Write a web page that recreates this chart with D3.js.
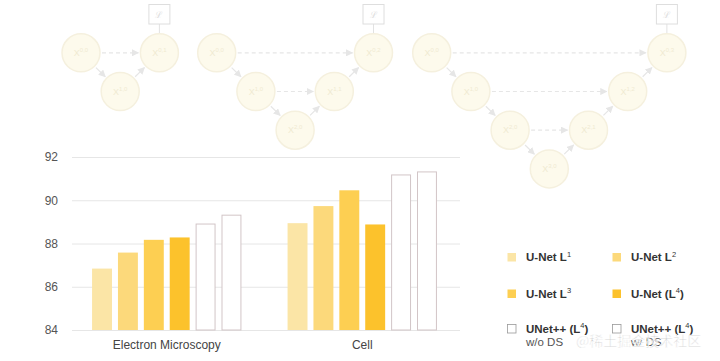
<!DOCTYPE html>
<html>
<head>
<meta charset="utf-8">
<script src="https://cdn.jsdelivr.net/npm/d3@7"></script>
<style>
  body { margin: 0; background: #fff; }
  svg { font-family: "Liberation Sans", Arial, sans-serif; }
</style>
</head>
<body>
<div id="chart"></div>
<script>
// Data
var datasets = ['Electron Microscopy', 'Cell'];
var seriesNames = ['U-Net L1', 'U-Net L2', 'U-Net L3', 'U-Net (L4)', 'UNet++ (L4) w/o DS', 'UNet++ (L4) w/ DS'];
var emValues   = [86.84, 87.58, 88.17, 88.28, 88.90, 89.31];
var cellValues = [88.94, 89.73, 90.46, 88.88, 91.17, 91.31];
var yTicks = [84, 86, 88, 90, 92];
var diagramDepths = [1, 2, 3];

// Legend entries: main text, superscript, suffix, second line
var legendMain = ['U-Net L', 'U-Net L', 'U-Net L', 'U-Net (L', 'UNet++ (L', 'UNet++ (L'];
var legendSup  = ['1', '2', '3', '4', '4', '4'];
var legendEnd  = ['', '', '', ')', ')', ')'];
var legendSub  = ['', '', '', '', 'w/o DS', 'w/ DS'];

var fills = ['#fbe5a6', '#fcd97b', '#fdcf52', '#fcc22c', '#ffffff', '#ffffff'];
var strokes = ['none', 'none', 'none', 'none', '#d2c5c7', '#d2c5c7'];

var W = 720, H = 361;
var svg = d3.select('#chart').append('svg')
    .attr('width', W)
    .attr('height', H);

// ---- faded network diagrams on top ----
var diag = svg.append('g');
var colStep = 39.2, rowStep = 38.7, r = 19;
var diagStart = [81, 216.7, 431.7];
var rowY = d3.scaleLinear().domain([0, 1]).range([52.8, 52.8 + rowStep]);

var defs = svg.append('defs');
defs.append('marker')
    .attr('id', 'arr')
    .attr('viewBox', '0 0 10 10')
    .attr('refX', 9).attr('refY', 5)
    .attr('markerWidth', 6).attr('markerHeight', 6)
    .attr('orient', 'auto')
  .append('path')
    .attr('d', 'M0,0 L10,5 L0,10 z')
    .attr('fill', '#e6e6e6');

diagramDepths.forEach(function(depth, k) {
  var colX = d3.scaleLinear().domain([0, 1]).range([diagStart[k], diagStart[k] + colStep]);
  var nodes = [];
  for (var i = 0; i <= depth; i++) nodes.push({i: i, j: 0});
  for (var j = 1; j <= depth; j++) nodes.push({i: depth - j, j: j});
  nodes.forEach(function(n) { n.x = colX(n.i + 2 * n.j); n.y = rowY(n.i); });
  function find(i, j) { return nodes.filter(function(n) { return n.i === i && n.j === j; })[0]; }

  var edges = [];
  for (var i = 0; i < depth; i++) edges.push({a: find(i, 0), b: find(i + 1, 0), dash: false});
  for (var j = 1; j <= depth; j++) edges.push({a: find(depth - j + 1, j - 1), b: find(depth - j, j), dash: false});
  for (var j = 1; j <= depth; j++) edges.push({a: find(depth - j, 0), b: find(depth - j, j), dash: true});

  function ends(e) {
    var d = Math.hypot(e.b.x - e.a.x, e.b.y - e.a.y), f = (r + 2) / d;
    return [e.a.x + (e.b.x - e.a.x) * f, e.a.y + (e.b.y - e.a.y) * f,
            e.b.x - (e.b.x - e.a.x) * f, e.b.y - (e.b.y - e.a.y) * f];
  }

  var g = diag.append('g');
  g.selectAll('line.edge').data(edges).enter().append('line')
      .attr('class', 'edge')
      .attr('x1', function(e) { return ends(e)[0]; })
      .attr('y1', function(e) { return ends(e)[1]; })
      .attr('x2', function(e) { return ends(e)[2]; })
      .attr('y2', function(e) { return ends(e)[3]; })
      .attr('stroke', '#e6e6e6')
      .attr('stroke-width', 1.2)
      .attr('stroke-dasharray', function(e) { return e.dash ? '4,3' : null; })
      .attr('marker-end', 'url(#arr)');

  var top = find(0, depth);
  g.append('line')
      .attr('x1', top.x).attr('x2', top.x)
      .attr('y1', 24).attr('y2', top.y - r)
      .attr('stroke', '#e2e2e2');
  g.append('rect')
      .attr('x', top.x - 10.5).attr('y', 4.5)
      .attr('width', 21).attr('height', 19.5)
      .attr('fill', '#fff')
      .attr('stroke', '#dedede');
  g.append('text')
      .attr('x', top.x).attr('y', 18)
      .attr('text-anchor', 'middle')
      .attr('font-size', 9)
      .attr('fill', '#dedede')
      .text('ℒ');

  var ng = g.selectAll('g.node').data(nodes).enter().append('g')
      .attr('class', 'node')
      .attr('transform', function(n) { return 'translate(' + n.x + ',' + n.y + ')'; });
  ng.append('circle')
      .attr('r', r)
      .attr('fill', '#fdfaec')
      .attr('stroke', '#f5f0de')
      .attr('stroke-width', 1.5);
  var t = ng.append('text')
      .attr('text-anchor', 'middle')
      .attr('y', 3)
      .attr('font-size', 9)
      .attr('fill', '#f0eAd2');
  t.append('tspan').text('X');
  t.append('tspan').attr('dy', -4).attr('font-size', 6)
      .text(function(n) { return n.i + ',' + n.j; });
});

// ---- bar chart ----
var y = d3.scaleLinear().domain([84, 92]).range([330, 157]);
var x0 = d3.scaleBand().domain(datasets).range([69, 460]).paddingInner(0.236).paddingOuter(0.118);
var x1 = d3.scaleBand().domain(d3.range(seriesNames.length)).range([0, x0.bandwidth()]).paddingInner(0.23);

var grid = svg.append('g')
    .attr('transform', 'translate(72,0)')
    .call(d3.axisLeft(y).tickValues(yTicks).tickSize(-388).tickPadding(14));
grid.select('.domain').remove();
grid.selectAll('.tick line').attr('stroke', '#e6e6e6');
grid.selectAll('.tick text')
    .attr('font-size', 12)
    .attr('fill', '#555')
    .attr('font-family', '"Liberation Sans", Arial, sans-serif');

var table = [emValues, cellValues];
var groups = svg.selectAll('g.grp').data(datasets).enter().append('g')
    .attr('class', 'grp')
    .attr('transform', function(d) { return 'translate(' + x0(d) + ',0)'; });

groups.selectAll('rect').data(function(d, i) { return table[i]; }).enter().append('rect')
    .attr('x', function(v, i) { return x1(i) + (strokes[i] !== 'none' ? 0.5 : 0); })
    .attr('y', function(v) { return y(v); })
    .attr('width', function(v, i) { return x1.bandwidth() - (strokes[i] !== 'none' ? 1 : 0); })
    .attr('height', function(v) { return y(84) - y(v); })
    .attr('fill', function(v, i) { return fills[i]; })
    .attr('stroke', function(v, i) { return strokes[i]; })
    .attr('stroke-width', 1);

svg.selectAll('text.cat').data(datasets).enter().append('text')
    .attr('class', 'cat')
    .attr('x', function(d) { return x0(d) + x0.bandwidth() / 2; })
    .attr('y', 349)
    .attr('text-anchor', 'middle')
    .attr('font-size', 12)
    .attr('fill', '#444')
    .text(function(d) { return d; });

// ---- legend ----
var legCol = [507, 612], legRow = [252.5, 289, 324];
var leg = svg.selectAll('g.leg').data(seriesNames).enter().append('g')
    .attr('class', 'leg')
    .attr('transform', function(d, i) { return 'translate(' + legCol[i % 2] + ',' + legRow[Math.floor(i / 2)] + ')'; });
leg.append('rect')
    .attr('x', 0.5).attr('y', 0.5)
    .attr('width', 8.5).attr('height', 8.5)
    .attr('fill', function(d, i) { return fills[i]; })
    .attr('stroke', function(d, i) { return strokes[i] === 'none' ? 'none' : '#9a9a9a'; })
    .attr('stroke-width', 0.8);
var lt = leg.append('text')
    .attr('x', 19).attr('y', 8.5)
    .attr('font-size', 11.5)
    .attr('font-weight', 'bold')
    .attr('fill', '#333');
lt.append('tspan').text(function(d, i) { return legendMain[i]; });
lt.append('tspan').attr('dy', -4.5).attr('font-size', 7.5).attr('font-weight', 'normal')
    .text(function(d, i) { return legendSup[i]; });
lt.append('tspan').attr('dy', 4.5)
    .text(function(d, i) { return legendEnd[i]; });
leg.append('text')
    .attr('x', 19).attr('y', 21.5)
    .attr('font-size', 11.5)
    .attr('fill', '#555')
    .text(function(d, i) { return legendSub[i]; });

// watermark (overlaps the legend in the source picture too)
svg.append('text')
    .attr('x', 576).attr('y', 346)
    .attr('font-size', 14)
    .attr('font-family', '"Noto Sans CJK SC", sans-serif')
    .attr('fill', '#9a9a9a')
    .attr('fill-opacity', 0.55)
    .attr('stroke', '#fff')
    .attr('stroke-width', 0.6)
    .text('@稀土掘金技术社区');
</script>
</body>
</html>
